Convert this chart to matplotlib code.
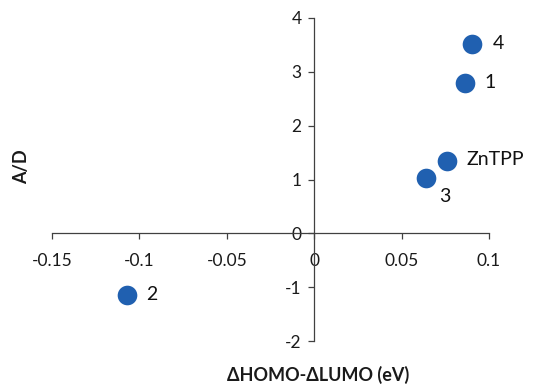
import matplotlib
matplotlib.use("Agg")
import matplotlib.pyplot as plt

# data
names = ["4", "1", "ZnTPP", "3", "2"]
dhl = [0.0905, 0.0861, 0.0762, 0.0642, -0.107]
ad = [3.52, 2.80, 1.35, 1.02, -1.14]
# label offsets (points) and alignment for each point label
offsets = [(18.5, 0), (18.5, 0), (13.5, 1), (13.5, -13), (18, 0)]
aligns = ["center", "center", "left", "center", "center"]

xticks = [-0.15, -0.1, -0.05, 0, 0.05, 0.1]
xticklabels = ["-0.15", "-0.1", "-0.05", "0", "0.05", "0.1"]
yticks = [-2, -1, 0, 1, 2, 3, 4]

plt.rcParams['font.family'] = ['Lato', 'DejaVu Sans']
plt.rcParams['axes.unicode_minus'] = False

fig = plt.figure(figsize=(5.53, 3.85), dpi=100)
ax = fig.add_axes([52/553, 1-341/385, (489-52)/553, (341-18)/385])

ax.scatter(dhl, ad, s=200, color='#2060b0', zorder=3, linewidths=0)
for n, x, y, off, ha in zip(names, dhl, ad, offsets, aligns):
    ax.annotate(n, (x, y), xytext=off, textcoords='offset points',
                ha=ha, va='center', fontsize=14, color='#111111')

ax.set_xlim(-0.15, 0.1)
ax.set_ylim(-2, 4)
ax.spines['left'].set_position(('data', 0))
ax.spines['bottom'].set_position(('data', 0))
ax.spines['right'].set_visible(False)
ax.spines['top'].set_visible(False)
for s in ['left', 'bottom']:
    ax.spines[s].set_color('#404040')
    ax.spines[s].set_linewidth(0.9)

ax.set_xticks(xticks)
ax.set_xticklabels(xticklabels)
ax.set_yticks(yticks)
ax.tick_params(axis='both', direction='out', length=4, width=0.9, color='#404040',
               labelsize=12.5, labelcolor='#1a1a1a')
ax.tick_params(axis='x', pad=10)
ax.tick_params(axis='y', pad=5)

fig.text(318/553, 1-375/385, 'ΔHOMO-ΔLUMO (eV)', ha='center', va='center',
         fontsize=13, fontweight='bold', color='#1a1a1a')
fig.text(22/553, 1-167/385, 'A/D', ha='center', va='center', rotation=90,
         fontsize=13, fontweight='bold', color='#1a1a1a')

fig.savefig('out.png', dpi=100)
